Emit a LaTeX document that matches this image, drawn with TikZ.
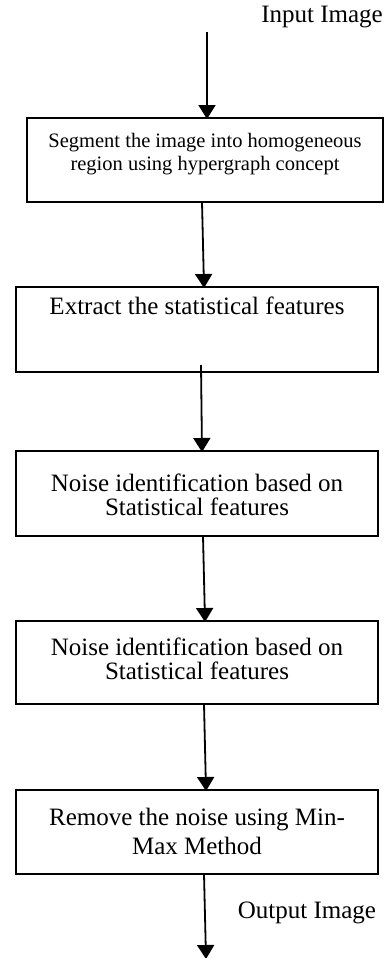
\documentclass[tikz,border=0pt]{standalone}
\usepackage{fontspec}
\setmainfont{Liberation Serif}
\usetikzlibrary{arrows.meta}
\begin{document}
\begin{tikzpicture}[x=1pt,y=-1pt,
  boxstyle/.style={draw,line width=1.8pt,inner sep=0pt,minimum width=#1},
  txt/.style={inner sep=0pt,align=center,font=\fontsize{25}{24}\selectfont},
  arr/.style={line width=1.8pt,-{Triangle[width=17pt,length=14pt]},shorten >=-1pt}]
\path[use as bounding box] (0,0) rectangle (386,958);
% boxes
\node[boxstyle=356pt,minimum height=84pt] (b1) at (205,160) {};
\node[boxstyle=362pt,minimum height=85pt] (b2) at (197,329.5) {};
\node[boxstyle=362pt,minimum height=85pt] (b3) at (197,493.5) {};
\node[boxstyle=362pt,minimum height=83pt] (b4) at (197,662.5) {};
\node[boxstyle=362pt,minimum height=84pt] (b5) at (197,832) {};
% texts
\node[txt] (tin) at (322,17) {Input Image};
\node[txt,font=\fontsize{20.5}{23}\selectfont] (t1) at (205,154) {Segment the image into homogeneous\\region using hypergraph concept};
\node[txt] (t2) at (197,306) {Extract the statistical features};
\node[txt] (t3) at (197,495) {Noise identification based on\\Statistical features};
\node[txt] (t4) at (197,659) {Noise identification based on\\Statistical features};
\node[txt,font=\fontsize{25}{29}\selectfont] (t5) at (197,831) {Remove the noise using Min-\\Max Method};
\node[txt] (tout) at (307,913) {Output Image};
% connector endpoints
\coordinate (a1s) at (207,32);
\coordinate (a1e) at (207,118);
\coordinate (a2s) at (202,202);
\coordinate (a2e) at (204,287);
\coordinate (a3s) at (201,365);
\coordinate (a3e) at (202,451);
\coordinate (a4s) at (203,536);
\coordinate (a4e) at (205,621);
\coordinate (a5s) at (204,704);
\coordinate (a5e) at (206,790);
\coordinate (a6s) at (204,874);
\coordinate (a6e) at (206,958);
\draw[arr] (a1s) -- (a1e);
\draw[arr] (a2s) -- (a2e);
\draw[arr] (a3s) -- (a3e);
\draw[arr] (a4s) -- (a4e);
\draw[arr] (a5s) -- (a5e);
\draw[arr] (a6s) -- (a6e);
\end{tikzpicture}
\end{document}
